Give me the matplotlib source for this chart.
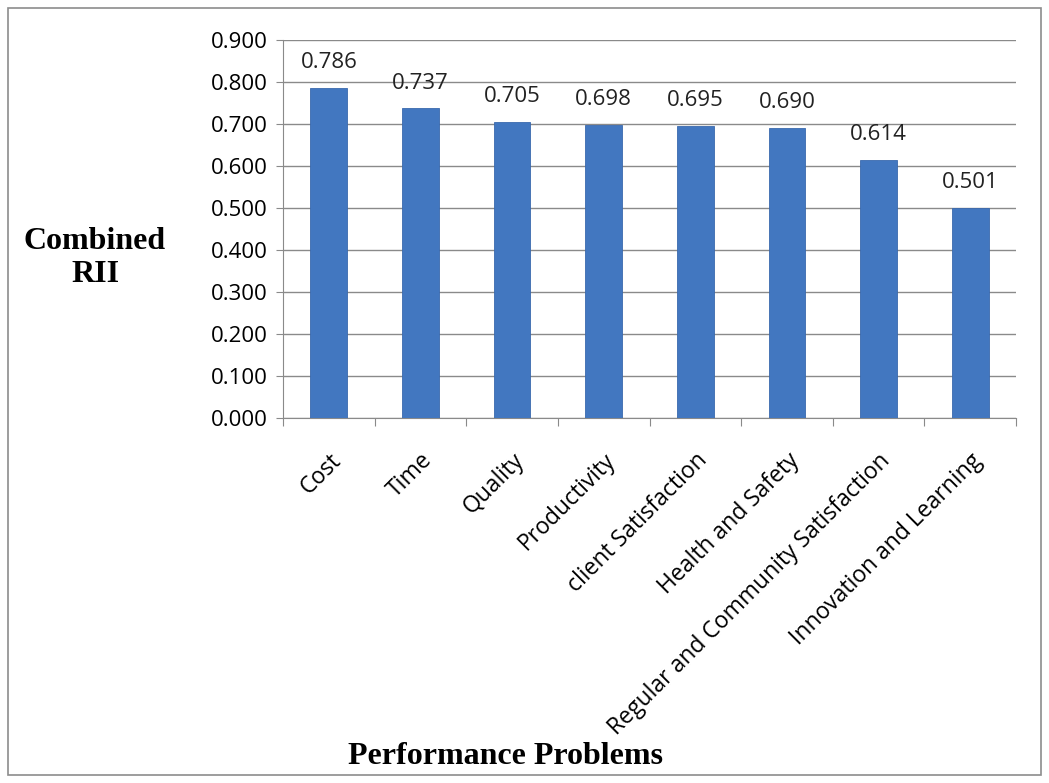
import matplotlib.pyplot as plt
from matplotlib.patches import Rectangle

# Dados
categories = ["Cost", "Time", "Quality", "Productivity", "client Satisfaction",
              "Health and Safety", "Regular and Community Satisfaction",
              "Innovation and Learning"]
rii_values = [0.786, 0.737, 0.705, 0.698, 0.695, 0.690, 0.614, 0.501]
y_ticks = [0.0, 0.1, 0.2, 0.3, 0.4, 0.5, 0.6, 0.7, 0.8, 0.9]

W, H = 1049, 783
fig = plt.figure(figsize=(W / 100, H / 100), dpi=100)
ax = fig.add_axes([283 / W, 1 - 418 / H, (1016 - 283) / W, (418 - 40) / H])

x = list(range(len(categories)))
ax.bar(x, rii_values, width=0.4, color="#4277c0", edgecolor="#3a69ad", linewidth=0.6, zorder=3)

for xi, v in zip(x, rii_values):
    ax.text(xi, v + 0.035, "%.3f" % v, ha="center", va="bottom",
            fontsize=16, family="Open Sans", color="#222222")

ax.set_xlim(-0.5, len(categories) - 0.5)
ax.set_ylim(0, 0.9)
ax.set_yticks(y_ticks)
ax.set_yticklabels(["%.3f" % t for t in y_ticks], family="Open Sans", fontsize=16)
ax.grid(axis="y", color="#8a8a8a", linewidth=1.0, zorder=0)

# Marcas do eixo x nas fronteiras das categorias
ax.set_xticks([i - 0.5 for i in range(len(categories) + 1)])
ax.set_xticklabels([])
ax.set_xticks(x, minor=True)
ax.set_xticklabels(categories, minor=True, rotation=45, ha="right",
                   rotation_mode="anchor", family="Open Sans", fontsize=16.5)
ax.tick_params(axis="x", which="major", length=6, color="#8a8a8a", direction="out")
ax.tick_params(axis="x", which="minor", length=0, pad=22)
ax.tick_params(axis="y", length=5, color="#8a8a8a", pad=6)

for side in ["top", "right"]:
    ax.spines[side].set_visible(False)
ax.spines["left"].set_color("#8a8a8a")
ax.spines["bottom"].set_color("#8a8a8a")

fig.text(95 / W, 1 - 258 / H, "Combined\nRII", ha="center", va="center",
         family="Liberation Serif", fontweight="bold", fontsize=23, linespacing=1.15)
fig.text(505 / W, 1 - 757 / H, "Performance Problems", ha="center", va="center",
         family="Liberation Serif", fontweight="bold", fontsize=23)

# Moldura
fig.patches.append(Rectangle((8 / W, 8 / H), (W - 16) / W, (H - 16) / H,
                             transform=fig.transFigure, fill=False,
                             edgecolor="#8c8c8c", linewidth=1.2))

fig.savefig("out.png", dpi=100)
